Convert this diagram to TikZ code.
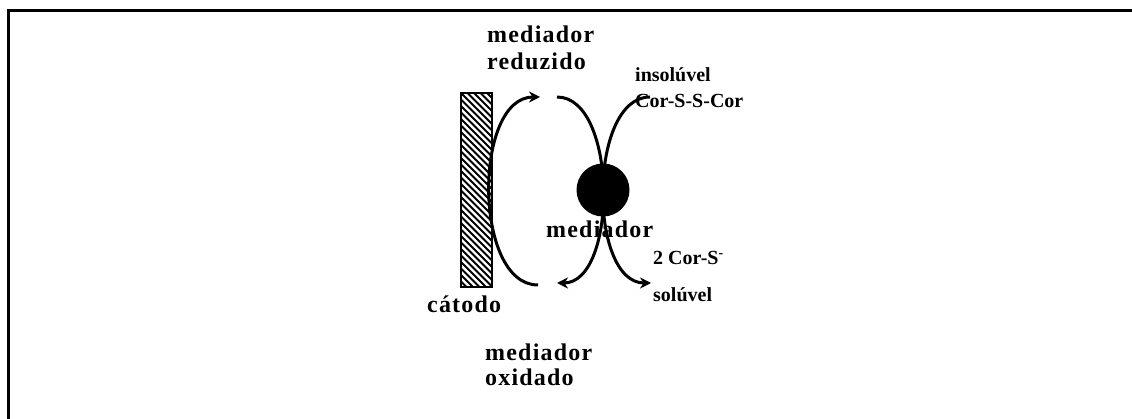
\documentclass[tikz,border=0pt]{standalone}
\usepackage{fontspec}
\setmainfont{Liberation Serif}
\usetikzlibrary{arrows.meta}
\newfontfamily\biglbl{Liberation Serif}[LetterSpace=5]
\newfontfamily\smalllbl{Liberation Serif}
\tikzset{
  big/.style={anchor=base west,inner sep=0pt,font=\biglbl\bfseries\fontsize{24}{28}\selectfont},
  small/.style={anchor=base west,inner sep=0pt,font=\smalllbl\bfseries\fontsize{20}{24}\selectfont},
  flow/.style={line width=3pt,-{Stealth[length=11pt,width=11pt]}},
  frame/.style={line width=3pt}
}
\begin{document}
\begin{tikzpicture}[x=1pt,y=-1pt]
\useasboundingbox (0,0) rectangle (1132,419);
% frame
\coordinate (fa) at (1132,11);
\coordinate (fb) at (8,11);
\coordinate (fc) at (8,419);
\draw[frame] (fa) -- (fb) -- (fc);
% cathode hatching
\begin{scope}
\clip (461,93) rectangle (492,287);
\foreach \k in {-10,...,40}{
  \draw[line width=1.8pt] (461,93+\k*6.5) -- ++(31,31);
}
\end{scope}
\node[draw,line width=2.8pt,minimum width=31pt,minimum height=194pt,inner sep=0pt] (cat) at (476.5,190) {};
% labels
\node[big] (mr1) at (487,43) {mediador};
\node[big] (mr2) at (487,70) {reduzido};
\node[small] (ins) at (635,82) {insolúvel};
\node[small] (css) at (635,108) {Cor-S-S-Cor};
\node[big] (med) at (546,238) {mediador};
\node[small] (cs) at (653,265) {2 Cor-S\textsuperscript{-}};
\node[small] (sol) at (653,302) {solúvel};
\node[big] (cato) at (427,313) {cátodo};
\node[big] (mo1) at (485,360) {mediador};
\node[big] (mo2) at (485,385) {oxidado};
% curve end points
\coordinate (c1) at (538,285);
\coordinate (c2) at (540,97);
\coordinate (m1) at (557,97);
\coordinate (m2) at (557,283);
\coordinate (r1) at (650,97);
\coordinate (r2) at (651,283);
\draw[flow] (c1) .. controls (473,285) and (473,97) .. (c2);
\draw[flow] (m1) .. controls (618,97) and (618,283) .. (m2);
\draw[flow] (r1) .. controls (588,97) and (588,283) .. (r2);
% mediator
\node[circle,fill=black,minimum size=53pt,inner sep=0pt] (circ) at (603,190) {};
\end{tikzpicture}
\end{document}
